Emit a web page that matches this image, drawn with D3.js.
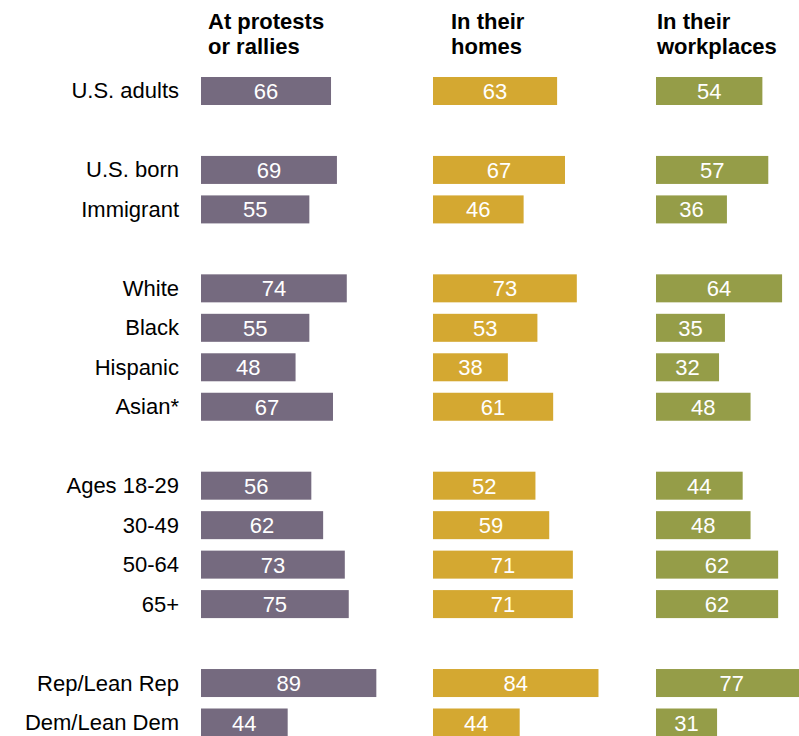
<!DOCTYPE html>
<html>
<head>
<meta charset="utf-8">
<script src="https://cdn.jsdelivr.net/npm/d3@7"></script>
<style>
  html, body { margin: 0; padding: 0; background: #fff; }
  svg { display: block; }
  text { font-family: "Liberation Sans", Arial, sans-serif; }
</style>
</head>
<body>
<svg id="chart" width="799" height="736"></svg>
<script>
// Row labels; empty strings are spacer rows between groups
const categories = [
  "U.S. adults", "",
  "U.S. born", "Immigrant", "",
  "White", "Black", "Hispanic", "Asian*", "",
  "Ages 18-29", "30-49", "50-64", "65+", "",
  "Rep/Lean Rep", "Dem/Lean Dem"
];

const columnTitles = [
  ["At protests", "or rallies"],
  ["In their", "homes"],
  ["In their", "workplaces"]
];

// Values per column, aligned with categories (null = spacer)
const protests   = [66, null, 69, 55, null, 74, 55, 48, 67, null, 56, 62, 73, 75, null, 89, 44];
const homes      = [63, null, 67, 46, null, 73, 53, 38, 61, null, 52, 59, 71, 71, null, 84, 44];
const workplaces = [54, null, 57, 36, null, 64, 35, 32, 48, null, 44, 48, 62, 62, null, 77, 31];

const series = [protests, homes, workplaces];
const colors = ["#756a7f", "#d4a831", "#959d48"];
const colStart = [201, 433, 656];
const titleX = [208, 451, 657];

const svg = d3.select("#chart");

const rowKeys = categories.map((c, i) => i);
const y = d3.scaleBand()
  .domain(rowKeys)
  .range([77, 736.5])
  .paddingInner(0.2906)
  .paddingOuter(0);

const x = d3.scaleLinear().domain([0, 100]).range([0, 197]);

// Category labels
svg.append("g")
  .selectAll("text")
  .data(categories.map((c, i) => ({ c, i })).filter(d => d.c))
  .join("text")
  .attr("x", 179)
  .attr("y", d => y(d.i) + y.bandwidth() / 2 + 7.5)
  .attr("text-anchor", "end")
  .attr("font-size", 22)
  .attr("fill", "#000")
  .text(d => d.c);

// Column titles
columnTitles.forEach((lines, k) => {
  const t = svg.append("text")
    .attr("x", titleX[k])
    .attr("y", 29)
    .attr("font-size", 22)
    .attr("font-weight", "bold")
    .attr("fill", "#000");
  lines.forEach((ln, j) => {
    t.append("tspan").attr("x", titleX[k]).attr("dy", j === 0 ? 0 : 25).text(ln);
  });
});

// Bars and value labels
series.forEach((vals, k) => {
  const g = svg.append("g").attr("transform", `translate(${colStart[k]},0)`);
  const data = vals.map((v, i) => ({ v, i })).filter(d => d.v !== null);
  g.selectAll("rect")
    .data(data)
    .join("rect")
    .attr("x", x(0))
    .attr("y", d => y(d.i))
    .attr("width", d => x(d.v))
    .attr("height", y.bandwidth())
    .attr("fill", colors[k]);
  g.selectAll("text")
    .data(data)
    .join("text")
    .attr("x", d => x(d.v) / 2)
    .attr("y", d => y(d.i) + y.bandwidth() / 2 + 8)
    .attr("text-anchor", "middle")
    .attr("font-size", 22)
    .attr("fill", "#fff")
    .text(d => d.v);
});
</script>
</body>
</html>
